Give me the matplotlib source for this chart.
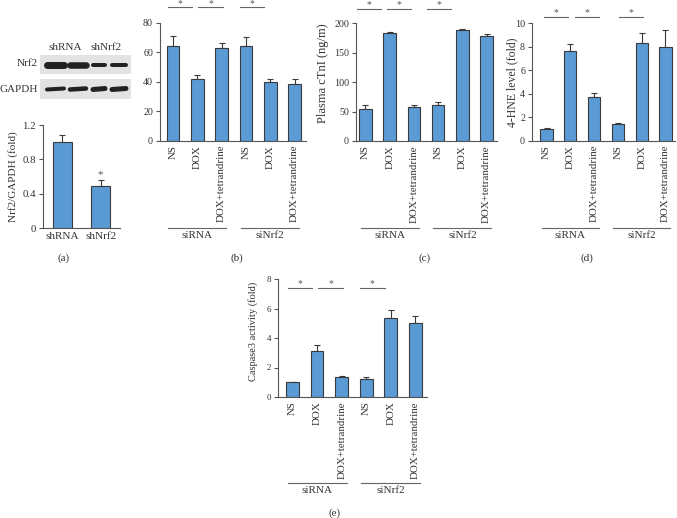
import matplotlib
matplotlib.use("Agg")
import matplotlib.pyplot as plt
import matplotlib.transforms as mtrans
from matplotlib.patches import Rectangle
import numpy as np

#--- data ---#
groups = ["NS", "DOX", "DOX+tetrandrine", "NS", "DOX", "DOX+tetrandrine"]
group_names = ["siRNA", "siNrf2"]

a_labels = ["shRNA", "shNrf2"]
a_vals = [1.0, 0.49]
a_err = [0.08, 0.07]

b_vals = [64, 42, 63, 64, 40, 38.5]
b_err = [7, 2.5, 3.5, 6, 2, 3]

c_vals = [54, 184, 58, 61, 188, 179]
c_err = [7, 2, 3.5, 5, 1.5, 3]

d_vals = [1.0, 7.6, 3.75, 1.4, 8.35, 7.95]
d_err = [0.06, 0.65, 0.35, 0.1, 0.85, 1.45]

e_vals = [1.0, 3.15, 1.35, 1.25, 5.35, 5.0]
e_err = [0.05, 0.4, 0.08, 0.1, 0.55, 0.5]

# western blot band thickness per lane (px)
nrf2_band = [7, 6.5, 4, 4]
gapdh_band = [4, 4.5, 5, 5]

BLUE = "#5b9bd5"
EDGE = "#3a3a3a"
TXT = "#333333"
LINE = "#666666"
plt.rcParams["font.family"] = ["Liberation Serif", "DejaVu Serif"]
plt.rcParams["font.size"] = 7.8
plt.rcParams["text.color"] = TXT
plt.rcParams["axes.edgecolor"] = "#555555"
plt.rcParams["xtick.color"] = "#555555"
plt.rcParams["ytick.color"] = "#555555"
plt.rcParams["xtick.labelcolor"] = TXT
plt.rcParams["ytick.labelcolor"] = TXT

W, H = 677, 518
fig = plt.figure(figsize=(W / 100, H / 100), dpi=100)

def px_axes(x0, x1, ytop, ybot):
    return fig.add_axes([x0 / W, 1 - ybot / H, (x1 - x0) / W, (ybot - ytop) / H])

def fy(y):
    return 1 - y / H

def style(ax, ysize=7.2):
    for s in ["top", "right"]:
        ax.spines[s].set_visible(False)
    ax.spines["left"].set_linewidth(0.8)
    ax.spines["bottom"].set_linewidth(0.8)
    ax.tick_params(axis="y", direction="out", length=3, width=0.8, pad=2, labelsize=ysize)
    ax.tick_params(axis="x", length=0, pad=3)

def ylab(text, x, y, size):
    fig.text(x / W, fy(y), text, rotation=90, ha="center", va="center", fontsize=size)

def bar_panel(ax, vals, err, ymax, yticks, xlim, sig_x, sig_y, grp_y, grp_x,
              ysize=7.2, star_off=3.2):
    x = np.arange(len(vals))
    ax.bar(x, vals, width=0.52, color=BLUE, edgecolor=EDGE, linewidth=0.8, zorder=2)
    ax.errorbar(x, vals, yerr=[np.zeros(len(err)), err], fmt="none", ecolor=EDGE,
                elinewidth=0.8, capsize=2.5, capthick=0.8, zorder=1)
    ax.set_ylim(0, ymax)
    ax.set_yticks(yticks)
    ax.set_xlim(*xlim)
    ax.set_xticks(x)
    ax.set_xticklabels(groups, rotation=90, va="top")
    style(ax, ysize)
    # significance lines
    for s in sig_x:
        ax.plot([s, s + 1.0], [sig_y, sig_y], color=LINE, lw=0.8, clip_on=False)
        ax.annotate("*", (s + 0.5, sig_y), xytext=(0, star_off), textcoords="offset points",
                    ha="center", va="center", fontsize=7, color="#555555",
                    annotation_clip=False)
    # group lines under the tick labels
    tr = mtrans.blended_transform_factory(ax.transData, fig.transFigure)
    for (g0, g1), name in zip(grp_x, group_names):
        ax.plot([g0, g1], [fy(grp_y), fy(grp_y)], color=LINE, lw=0.8,
                transform=tr, clip_on=False)
        ax.text((g0 + g1) / 2, fy(grp_y + 3), name, ha="center", va="top",
                transform=tr, fontsize=8)

grp = [(-0.2, 2.2), (2.8, 5.2)]

#--- (a) blot ---#
axb = px_axes(40, 131, 52, 100)
axb.set_xlim(40, 131)
axb.set_ylim(100, 52)
axb.axis("off")
axb.add_patch(Rectangle((40, 55), 91, 19, color="#e3e3e3", lw=0))
axb.add_patch(Rectangle((40, 79), 91, 20, color="#e3e3e3", lw=0))
lanes = [(45, 66), (68, 88), (91, 107), (110, 128)]
for (l0, l1), t in zip(lanes, nrf2_band):
    axb.plot([l0 + 2, l1 - 2], [64.5, 64.5], color="#111111", lw=t * 0.72,
             solid_capstyle="round", alpha=0.92)
for (l0, l1), t in zip(lanes, gapdh_band):
    axb.plot([l0 + 2, l1 - 2], [89.5, 88.5], color="#111111", lw=t * 0.72,
             solid_capstyle="round", alpha=0.92)
fig.text(38 / W, fy(64), "Nrf2", ha="right", va="center", fontsize=8)
fig.text(38 / W, fy(89), "GAPDH", ha="right", va="center", fontsize=8)
fig.text(65 / W, fy(47), a_labels[0], ha="center", va="center", fontsize=8)
fig.text(106 / W, fy(47), a_labels[1], ha="center", va="center", fontsize=8)

#--- (a) bars ---#
ax = px_axes(43, 120, 125, 228)
xa = np.arange(2)
ax.bar(xa, a_vals, width=0.5, color=BLUE, edgecolor=EDGE, linewidth=0.8, zorder=2)
ax.errorbar(xa, a_vals, yerr=[[0, 0], a_err], fmt="none", ecolor=EDGE,
            elinewidth=0.8, capsize=2.5, capthick=0.8, zorder=1)
ax.annotate("*", (1, a_vals[1] + a_err[1]), xytext=(0, 4), textcoords="offset points",
            ha="center", va="center", fontsize=8, color="#555555")
ax.set_ylim(0, 1.2)
ax.set_yticks([0, 0.4, 0.8, 1.2])
ax.set_yticklabels(["0", "0.4", "0.8", "1.2"])
ax.set_xlim(-0.5, 1.5)
ax.set_xticks(xa)
ax.set_xticklabels(a_labels, fontsize=8)
style(ax, 7.8)
ylab("Nrf2/GAPDH (fold)", 13, 177, 8)

#--- (b) ---#
ax = px_axes(160, 306, 22.7, 140.7)
bar_panel(ax, b_vals, b_err, 80, [0, 20, 40, 60, 80], (-0.53, 5.47),
          [-0.2, 1.05, 2.75], 90.5, 228, grp, star_off=2.4)

#--- (c) ---#
ax = px_axes(356, 497, 23.3, 141)
bar_panel(ax, c_vals, c_err, 200, [0, 50, 100, 150, 200], (-0.39, 5.43),
          [-0.35, 0.9, 2.55], 224, 228, grp)
ylab("Plasma cTnI (ng/m)", 323, 73, 9)

#--- (d) ---#
ax = px_axes(532, 675, 23.3, 140.7)
bar_panel(ax, d_vals, d_err, 10, [0, 2, 4, 6, 8, 10], (-0.61, 5.4),
          [-0.1, 1.2, 3.05], 10.56, 228, grp)
ylab("4-HNE level (fold)", 512, 82, 8.5)

#--- (e) ---#
ax = px_axes(278, 427, 279, 397)
bar_panel(ax, e_vals, e_err, 8, [0, 2, 4, 6, 8], (-0.59, 5.47),
          [-0.2, 1.05, 2.75], 7.39, 483, grp, ysize=6.5)
ylab("Caspase3 activity (fold)", 253, 331, 7.5)

#--- panel letters ---#
for lab, x, y in [("(a)", 64, 258), ("(b)", 237, 258), ("(c)", 425, 258),
                  ("(d)", 587, 258), ("(e)", 335, 513)]:
    fig.text(x / W, fy(y), lab, ha="center", va="center", fontsize=8)

fig.savefig("out.png", dpi=100)
